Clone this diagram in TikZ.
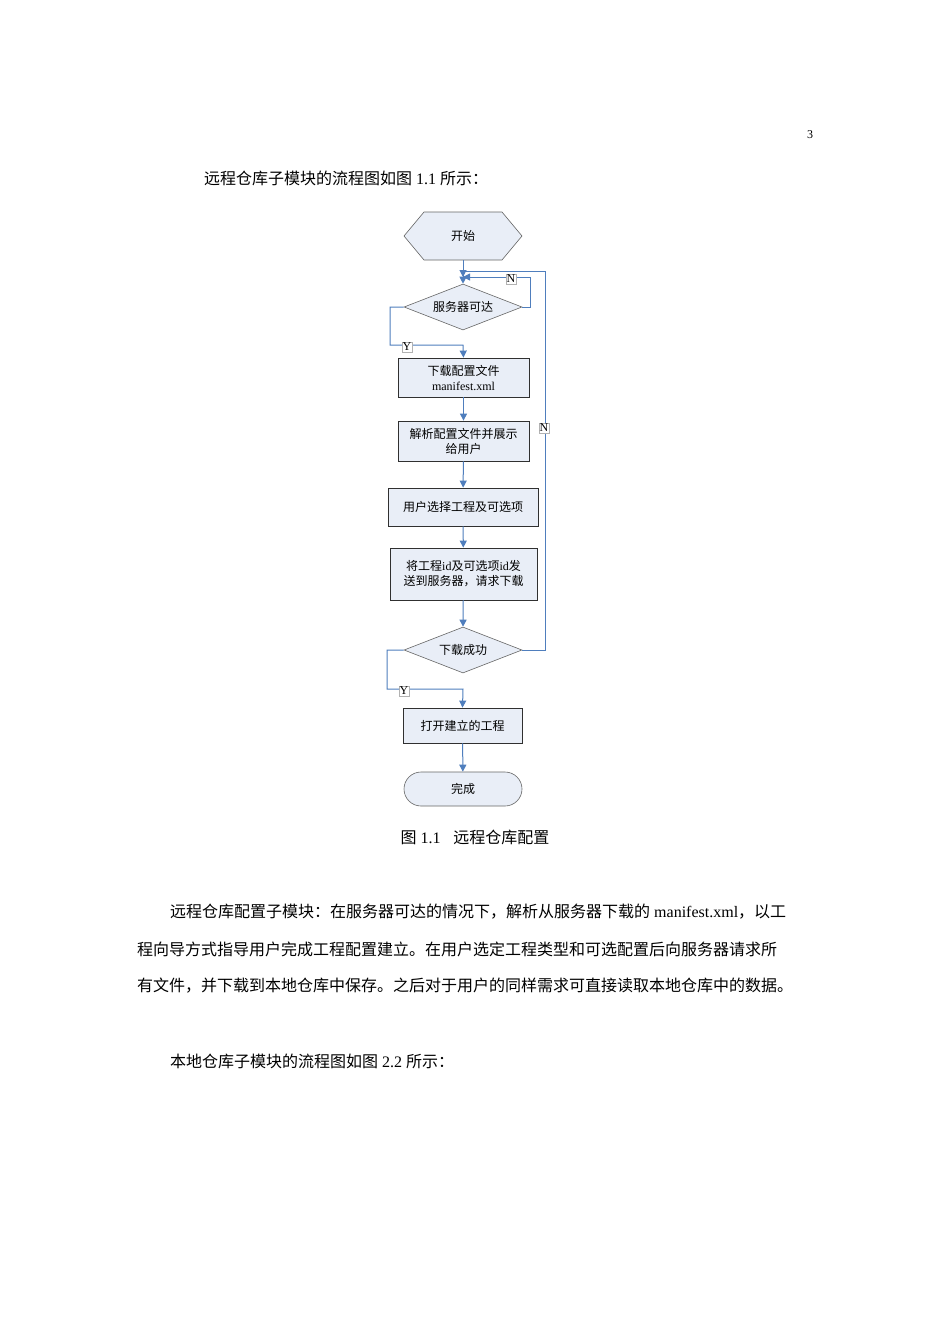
\documentclass[tikz,border=0pt]{standalone}
\usepackage{fontspec}
\setmainfont{Liberation Serif}
\newfontfamily\cjk{Noto Sans CJK SC}
\newcommand{\C}[1]{{\cjk #1}}
\usetikzlibrary{shapes.geometric,arrows.meta}
\definecolor{fillc}{HTML}{E9EEF7}
\definecolor{linec}{HTML}{4F7EBD}
\definecolor{bordc}{HTML}{303030}
\begin{document}
\begin{tikzpicture}[x=1pt,y=-1pt,
  box/.style={draw=bordc,fill=fillc,line width=0.8pt,align=center,font=\fontsize{12}{15}\selectfont,inner sep=2pt},
  dia/.style={diamond,draw=gray!80!black,fill=fillc,line width=0.6pt,inner sep=0pt,minimum width=118pt,minimum height=46pt,aspect=2.57,font=\fontsize{12}{15}\selectfont},
  conn/.style={linec,line width=1pt},
  arr/.style={conn,-{Triangle[length=7pt,width=7pt]}},
  lab/.style={draw=gray!60,fill=white,line width=0.4pt,inner sep=0.8pt,font=\fontsize{12}{12}\selectfont},
  body/.style={anchor=west,font=\fontsize{16}{20}\selectfont,inner sep=0pt}]
\useasboundingbox (0,0) rectangle (950,1344);
\fill[white] (0,0) rectangle (950,1344);
\node[anchor=center,font=\fontsize{12}{12}\selectfont] (pg) at (810,135) {3};
\node[body] (t1) at (204,178) {\C{远程仓库子模块的流程图如图} 1.1 \C{所示：}};

% start hexagon
\node[minimum width=118pt,minimum height=48pt,inner sep=0] (st) at (463,236) {};
\fill[fillc] (404,236) -- (424,212) -- (502,212) -- (522,236) -- (502,260) -- (424,260) -- cycle;
\draw[gray!80!black,line width=0.6pt] (404,236) -- (424,212) -- (502,212) -- (522,236) -- (502,260) -- (424,260) -- cycle;
\node[font=\fontsize{12}{15}\selectfont] at (st) {\C{开始}};

\node[dia] (d1) at (463,307) {\C{服务器可达}};
\node[box,minimum width=131pt,minimum height=39pt] (b1) at (463.5,377.5) {\C{下载配置文件}\\manifest.xml};
\node[box,minimum width=131pt,minimum height=40pt] (b2) at (463.5,441) {\C{解析配置文件并展示}\\\C{给用户}};
\node[box,minimum width=150pt,minimum height=38pt] (b3) at (463,507) {\C{用户选择工程及可选项}};
\node[box,minimum width=147pt,minimum height=52pt] (b4) at (463.5,574) {\C{将工程}id\C{及可选项}id\C{发}\\\C{送到服务器，请求下载}};
\node[dia] (d2) at (463,650) {\C{下载成功}};
\node[box,minimum width=119pt,minimum height=35pt] (b5) at (462.5,725.5) {\C{打开建立的工程}};
\node[draw=gray!80!black,fill=fillc,line width=0.6pt,rounded corners=17pt,minimum width=118pt,minimum height=34pt,font=\fontsize{12}{15}\selectfont] (en) at (463,789) {\C{完成}};

\coordinate (j) at (463,277);
\draw[arr] (st.south) -- (d1.north);
% inner N loop
\draw[arr] (d1.east) -- (530,307) -- (530,277) -- (j);
% outer N loop
\draw[arr] (d2.east) -- (545,650) -- (545,271) -- (463,271) -- (j);
% Y branch 1
\draw[arr] (d1.west) -- (390,307) -- (390,345) -- (463,345) -- (b1.north);
\draw[arr] (b1) -- (b2);
\draw[arr] (b2) -- (b3);
\draw[arr] (b3) -- (b4);
\draw[arr] (b4) -- (d2.north);
\draw[arr] (d2.west) -- (387,650) -- (387,689) -- (463,689) -- (b5.north);
\draw[arr] (b5) -- (en);

\node[lab] (n1) at (511,279) {N};
\node[lab] (n2) at (544,428) {N};
\node[lab] (y1) at (407,347) {Y};
\node[lab] (y2) at (404,691) {Y};

\node[font=\fontsize{16}{20}\selectfont] (cap) at (475,837) {\C{图} 1.1\hspace{0.8em}\C{远程仓库配置}};

\node[body] (p1) at (170,912) {\C{远程仓库配置子模块：在服务器可达的情况下，解析从服务器下载的} manifest.xml\C{，以工}};
\node[body] (p2) at (137,949) {\C{程向导方式指导用户完成工程配置建立。在用户选定工程类型和可选配置后向服务器请求所}};
\node[body] (p3) at (137,986) {\C{有文件，并下载到本地仓库中保存。之后对于用户的同样需求可直接读取本地仓库中的数据。}};
\node[body] (p4) at (170,1061) {\C{本地仓库子模块的流程图如图} 2.2 \C{所示：}};
\end{tikzpicture}
\end{document}
